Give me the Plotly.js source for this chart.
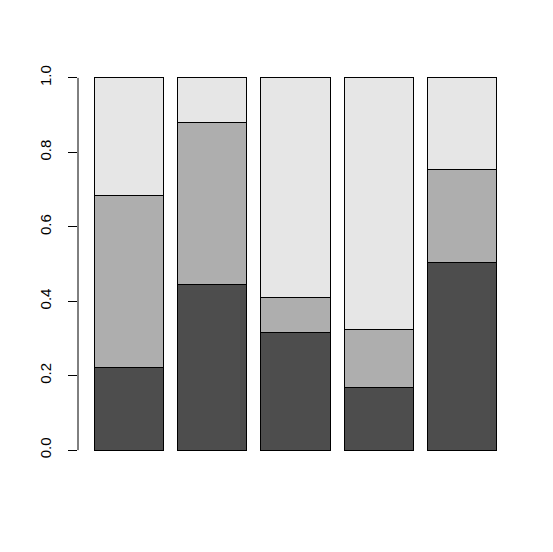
<!DOCTYPE html>
<html>
<head>
<meta charset="utf-8">
<script src="https://cdn.plot.ly/plotly-3.0.1.min.js"></script>
<style>html,body{margin:0;padding:0;background:#fff;}#chart{width:553px;height:552px;}</style>
</head>
<body>
<div id="chart"></div>
<script>
const categories = ["A", "B", "C", "D", "E"];
const seriesNames = ["s1", "s2", "s3"];
const s1 = [0.223, 0.446, 0.317, 0.169, 0.503];
const s2 = [0.460, 0.433, 0.094, 0.154, 0.252];
const s3 = [0.317, 0.121, 0.589, 0.677, 0.245];
const colors = ["#4D4D4D", "#AEAEAE", "#E6E6E6"];
const yTicks = [0, 0.2, 0.4, 0.6, 0.8, 1.0];
const yTickText = ["0.0", "0.2", "0.4", "0.6", "0.8", "1.0"];

const traces = [s1, s2, s3].map((v, i) => ({
  type: "bar",
  name: seriesNames[i],
  x: categories,
  y: v,
  marker: {color: colors[i], line: {color: "#000", width: 1}},
  hoverinfo: "skip"
}));

const layout = {
  width: 553, height: 552,
  margin: {l: 78, r: 40, t: 63, b: 87, pad: 0},
  paper_bgcolor: "#fff", plot_bgcolor: "#fff",
  barmode: "stack",
  bargap: 1/6,
  showlegend: false,
  font: {family: "Liberation Sans, Arial, sans-serif", size: 15, color: "#000"},
  xaxis: {type: "category", range: [-0.61, 4.61], showticklabels: false, ticks: "",
          showgrid: false, zeroline: false, showline: false, fixedrange: true},
  yaxis: {range: [-0.04, 1.04], tickvals: yTicks, ticktext: yTickText, ticks: "outside",
          ticklen: 9, tickwidth: 1, tickcolor: "#000", tickangle: -90, ticklabelstandoff: 11,
          showgrid: false, zeroline: false, showline: false, fixedrange: true,
          tickfont: {size: 15, color: "#000"}},
  shapes: [{type: "line", xref: "paper", yref: "y", x0: 0, x1: 0, y0: 0, y1: 1,
            line: {color: "#000", width: 1}}]
};

Plotly.newPlot("chart", traces, layout, {staticPlot: true, displayModeBar: false});
</script>
</body>
</html>
